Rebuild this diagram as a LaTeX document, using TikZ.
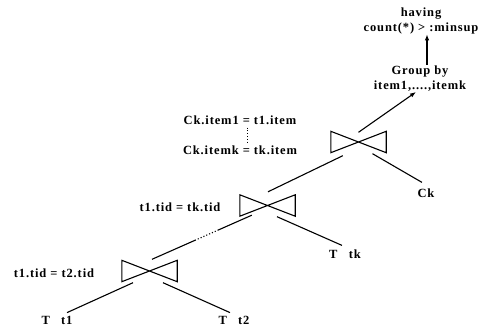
\documentclass[tikz,border=0pt]{standalone}
\usepackage{fontspec}
\setmainfont{Liberation Serif}[LetterSpace=7]
\usetikzlibrary{calc,arrows.meta}
\tikzset{
  lbl/.style={inner sep=0pt, font=\fontsize{12.5}{15}\selectfont\bfseries, align=center},
  bowtie/.style={minimum width=55pt, minimum height=21pt, inner sep=0pt, draw=none},
  edge/.style={line width=1.1pt},
  arr/.style={line width=1.1pt, -{Latex[length=6pt,width=4.5pt]}},
}
\newcommand{\drawbowtie}[1]{\draw[edge, line join=miter] (#1.north west) -- (#1.south east) -- (#1.north east) -- (#1.south west) -- cycle;}
\begin{document}
\begin{tikzpicture}[x=1pt,y=-1pt]
\useasboundingbox (0,0) rectangle (484,329);
% joins
\node[bowtie] (j1) at (149.5,271) {};
\node[bowtie] (j2) at (267.5,205.5) {};
\node[bowtie] (j3) at (358.5,142) {};
\drawbowtie{j1}
\drawbowtie{j2}
\drawbowtie{j3}
% labels
\node[lbl] (having) at (421,21) {having\\count(*) > :minsup};
\node[lbl] (group) at (420,79) {Group by\\item1,....,itemk};
\node[lbl] (ck) at (426,193) {Ck};
\node[lbl] (ttk) at (345,254) {T\hspace{0.9em}tk};
\node[lbl] (tt1) at (57,320) {T\hspace{0.9em}t1};
\node[lbl] (tt2) at (234,320) {T\hspace{0.9em}t2};
\node[lbl] (c1) at (54,273) {t1.tid = t2.tid};
\node[lbl] (c2) at (180,207) {t1.tid = tk.tid};
\node[lbl] (c3a) at (240,120) {Ck.item1 = t1.item};
\node[lbl] (c3b) at (240,150) {Ck.itemk = tk.item};
% connectors
\draw[arr] (group.north -| 427,0) ++(0,-1) coordinate (ga) -- (ga |- having.south);
\draw[arr] ($(j3.north)+(0,1)$) -- ($(group.south)+(-4,0)$);
\draw[edge] ($(j3.south)+(14,1)$) -- ($(ck.north)+(-4,-6)$);
\draw[edge] ($(j2.north)+(0.5,-3)$) -- ($(j3.south west)+(12,3)$);
\draw[edge] ($(j2.south)+(9.5,0.5)$) -- ($(ttk.north)+(-3,-4)$);
\coordinate (p1) at ($(j1.north)+(2.5,-1)$);
\coordinate (p4) at ($(j2.south west)+(12,-1)$);
\draw[edge] (p1) -- ($(p1)!0.43!(p4)$);
\draw[edge, dotted] ($(p1)!0.43!(p4)$) -- ($(p1)!0.66!(p4)$);
\draw[edge] ($(p1)!0.66!(p4)$) -- (p4);
\draw[edge] ($(j1.south)+(-16.5,1)$) -- ($(tt1.north)+(10,-3)$);
\draw[edge] ($(j1.south)+(13.5,1)$) -- ($(tt2.north)+(-4,-3)$);
\draw[line width=0.8pt, dotted] ($(c3a.south)+(7,3)$) -- ($(c3b.north)+(7,-3)$);
\end{tikzpicture}
\end{document}
